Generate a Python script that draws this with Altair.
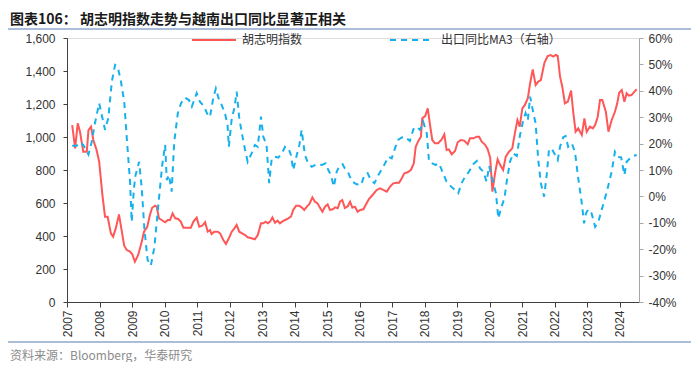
import altair as alt
import pandas as pd

# ---------------- data ----------------
red_year = [2007.16, 2007.25, 2007.33, 2007.40, 2007.50, 2007.61, 2007.66, 2007.74, 2007.81, 2007.91,
            2007.99, 2008.09, 2008.17, 2008.25, 2008.35, 2008.42, 2008.50, 2008.60, 2008.68, 2008.76,
            2008.84, 2008.94, 2009.01, 2009.09, 2009.19, 2009.30, 2009.37, 2009.47, 2009.55, 2009.62,
            2009.71, 2009.76, 2009.83, 2009.91, 2010.02, 2010.10, 2010.17, 2010.25, 2010.33, 2010.42,
            2010.50, 2010.58, 2010.68, 2010.81, 2010.89, 2010.99, 2011.07, 2011.16, 2011.25, 2011.33,
            2011.40, 2011.45, 2011.53, 2011.64, 2011.71, 2011.81, 2011.89, 2011.98, 2012.07, 2012.15,
            2012.22, 2012.30, 2012.39, 2012.48, 2012.56, 2012.68, 2012.78, 2012.87, 2012.97, 2013.04,
            2013.11, 2013.18, 2013.25, 2013.32, 2013.40, 2013.48, 2013.55, 2013.62, 2013.71, 2013.81,
            2013.89, 2013.96, 2014.05, 2014.14, 2014.22, 2014.30, 2014.38, 2014.46, 2014.55, 2014.63,
            2014.71, 2014.78, 2014.86, 2014.94, 2015.02, 2015.09, 2015.18, 2015.25, 2015.33, 2015.40,
            2015.47, 2015.55, 2015.64, 2015.71, 2015.78, 2015.86, 2015.94, 2016.02, 2016.12, 2016.19,
            2016.29, 2016.42, 2016.53, 2016.63, 2016.73, 2016.84, 2016.94, 2017.04, 2017.14, 2017.22,
            2017.30, 2017.38, 2017.48, 2017.58, 2017.67, 2017.73, 2017.81, 2017.89, 2017.93, 2018.02,
            2018.10, 2018.17, 2018.24, 2018.32, 2018.42, 2018.53, 2018.61, 2018.68, 2018.75, 2018.84,
            2018.94, 2019.02, 2019.12, 2019.22, 2019.33, 2019.40, 2019.50, 2019.61, 2019.68, 2019.76,
            2019.86, 2019.94, 2020.02, 2020.09, 2020.17, 2020.25, 2020.33, 2020.42, 2020.50, 2020.60,
            2020.70, 2020.78, 2020.86, 2020.93, 2021.01, 2021.09, 2021.18, 2021.25, 2021.33, 2021.42,
            2021.50, 2021.58, 2021.69, 2021.79, 2021.88, 2021.96, 2022.04, 2022.10, 2022.17, 2022.24,
            2022.32, 2022.41, 2022.51, 2022.58, 2022.65, 2022.73, 2022.84, 2022.92, 2022.99, 2023.09,
            2023.18, 2023.25, 2023.33, 2023.40, 2023.47, 2023.58, 2023.66, 2023.76, 2023.86, 2023.93,
            2023.99, 2024.07, 2024.15, 2024.22, 2024.29, 2024.37, 2024.46, 2024.53]
red_val = [1072, 931, 1083, 1032, 911, 911, 1042, 1063, 982, 921,
           850, 648, 517, 517, 416, 396, 446, 531, 436, 341,
           315, 305, 289, 244, 285, 365, 426, 456, 527, 571,
           584, 578, 507, 497, 483, 497, 497, 537, 507, 503,
           487, 450, 450, 450, 487, 511, 456, 462, 484, 426,
           436, 412, 426, 426, 416, 376, 352, 386, 426, 446,
           467, 426, 416, 406, 392, 386, 380, 406, 477, 477,
           487, 477, 487, 513, 481, 493, 477, 487, 497, 507,
           517, 558, 584, 584, 574, 558, 578, 594, 634, 608,
           598, 572, 547, 578, 592, 558, 562, 574, 568, 608,
           618, 570, 580, 608, 572, 578, 547, 558, 562, 588,
           624, 653, 679, 689, 679, 669, 699, 719, 723, 723,
           750, 780, 786, 800, 840, 941, 976, 1002, 1113, 1127,
           1174, 1073, 982, 962, 962, 986, 1016, 921, 925, 895,
           915, 968, 982, 978, 956, 992, 992, 1002, 1002, 972,
           954, 928, 876, 669, 780, 865, 830, 800, 881, 911,
           931, 1022, 1103, 1063, 1174, 1194, 1235, 1326, 1410, 1315,
           1336, 1345, 1450, 1491, 1497, 1487, 1497, 1491, 1366, 1305,
           1204, 1214, 1281, 1144, 1032, 1052, 1012, 1113, 1032, 1063,
           1052, 1073, 1123, 1224, 1224, 1153, 1032, 1103, 1153, 1204,
           1268, 1285, 1214, 1265, 1251, 1254, 1275, 1289]

blue_year = [2007.16, 2007.30, 2007.40, 2007.50, 2007.66, 2007.76, 2007.86, 2007.99, 2008.07, 2008.17,
             2008.27, 2008.38, 2008.48, 2008.56, 2008.66, 2008.76, 2008.84, 2008.94, 2008.99, 2009.06,
             2009.11, 2009.22, 2009.30, 2009.38, 2009.48, 2009.58, 2009.69, 2009.81, 2009.93, 2010.02,
             2010.07, 2010.14, 2010.22, 2010.30, 2010.41, 2010.51, 2010.63, 2010.75, 2010.84, 2010.99,
             2011.09, 2011.22, 2011.35, 2011.40, 2011.50, 2011.58, 2011.68, 2011.76, 2011.86, 2011.94,
             2011.98, 2012.07, 2012.15, 2012.22, 2012.30, 2012.39, 2012.48, 2012.56, 2012.68, 2012.78,
             2012.87, 2012.97, 2013.04, 2013.14, 2013.22, 2013.30, 2013.40, 2013.50, 2013.61, 2013.71,
             2013.81, 2013.89, 2013.96, 2014.07, 2014.15, 2014.22, 2014.32, 2014.42, 2014.53, 2014.68,
             2014.84, 2014.96, 2015.04, 2015.12, 2015.21, 2015.30, 2015.40, 2015.48, 2015.55, 2015.66,
             2015.76, 2015.91, 2016.05, 2016.15, 2016.25, 2016.35, 2016.46, 2016.58, 2016.73, 2016.89,
             2016.99, 2017.09, 2017.19, 2017.30, 2017.40, 2017.55, 2017.66, 2017.76, 2017.86, 2017.96,
             2018.07, 2018.14, 2018.24, 2018.34, 2018.45, 2018.55, 2018.68, 2018.82, 2018.94, 2019.04,
             2019.14, 2019.25, 2019.37, 2019.50, 2019.61, 2019.71, 2019.81, 2019.91, 2019.99, 2020.10,
             2020.20, 2020.27, 2020.37, 2020.46, 2020.53, 2020.63, 2020.73, 2020.84, 2020.94, 2021.04,
             2021.11, 2021.18, 2021.25, 2021.35, 2021.42, 2021.50, 2021.58, 2021.68, 2021.76, 2021.83,
             2021.91, 2022.02, 2022.10, 2022.17, 2022.27, 2022.34, 2022.42, 2022.53, 2022.63, 2022.73,
             2022.84, 2022.91, 2022.97, 2023.04, 2023.14, 2023.25, 2023.35, 2023.45, 2023.61, 2023.76,
             2023.86, 2023.94, 2024.05, 2024.15, 2024.22, 2024.32, 2024.42, 2024.53]
blue_val = [19.2, 19.2, 20.5, 19.5, 15.9, 20.7, 27.7, 35.3, 30.8, 25.2,
            29.6, 43.5, 49.8, 49.1, 43.5, 35.9, 22.0, 5.6, -9.6, 3.1,
            8.1, 13.1, 3.1, -12.1, -24.1, -26.2, -19.1, -3.3, 11.9, 19.5,
            6.2, 8.1, 1.8, 20.7, 31.5, 35.3, 37.4, 36.5, 34.0, 39.1,
            35.9, 34.0, 30.2, 30.2, 37.2, 40.9, 36.5, 34.6, 31.5, 27.0,
            18.8, 29.6, 33.4, 39.7, 29.6, 23.3, 17.6, 13.1, 16.3, 19.5,
            18.8, 30.2, 22.6, 19.5, 5.0, 14.4, 15.0, 14.7, 16.3, 18.8,
            18.4, 15.7, 10.0, 15.7, 19.5, 25.2, 15.7, 12.5, 11.2, 12.2,
            11.9, 12.5, 10.0, 8.1, 3.7, 9.4, 11.9, 12.2, 10.6, 8.8,
            5.8, 4.6, 4.3, 8.1, 8.8, 6.2, 5.0, 8.1, 11.2, 15.0,
            14.4, 18.2, 21.4, 22.3, 22.6, 21.0, 25.5, 26.4, 25.2, 28.3,
            23.9, 13.1, 12.5, 11.9, 12.5, 9.4, 5.6, 3.7, 2.4, 1.2,
            5.0, 7.5, 9.4, 12.2, 13.4, 10.6, 9.4, 5.6, 11.5, 5.6,
            1.2, -8.3, -3.9, -0.7, 5.6, 13.1, 16.3, 15.3, 23.3, 28.9,
            31.5, 28.9, 37.8, 31.5, 27.7, 13.8, 5.0, -0.1, 8.1, 17.6,
            18.2, 15.7, 13.8, 18.8, 22.4, 22.9, 18.8, 20.1, 16.9, 6.9,
            -2.6, -10.2, -6.4, -4.9, -6.4, -11.5, -9.6, -5.2, 1.8, 9.4,
            16.9, 15.0, 14.8, 8.1, 13.1, 14.4, 15.3, 15.7]

year_ticks = list(range(2007, 2025))
left_ticks = [0, 200, 400, 600, 800, 1000, 1200, 1400, 1600]
right_ticks = [-40, -30, -20, -10, 0, 10, 20, 30, 40, 50, 60]

title_prefix = ["图表106："]
title_main = ["胡志明指数走势与越南出口同比显著正相关"]
source_text = ["资料来源：Bloomberg，华泰研究"]
legend_red = ["胡志明指数"]
legend_blue = ["出口同比MA3（右轴）"]

RED = "#FF5757"
BLUE = "#16B1EC"
FONT = "Liberation Sans"
CJK = "Noto Sans CJK SC"

W, H = 572, 264

red_df = pd.DataFrame({"year": red_year, "val": red_val})
blue_df = pd.DataFrame({"year": blue_year, "val": blue_val})

x_axis = alt.Axis(values=year_ticks, format="d", labelAngle=270, grid=False,
                  domainColor="#404040", tickColor="#404040", tickSize=5,
                  labelPadding=3, labelFont=FONT, labelFontSize=12, labelColor="#333333",
                  title=None)
x_scale = alt.Scale(domain=[2007, 2024.6], nice=False, zero=False)

red_line = alt.Chart(red_df).mark_line(color=RED, strokeWidth=2).encode(
    x=alt.X("year:Q", scale=x_scale, axis=x_axis),
    y=alt.Y("val:Q", scale=alt.Scale(domain=[0, 1600], nice=False),
            axis=alt.Axis(values=left_ticks, format=",d", orient="left", grid=False,
                          domainColor="#404040", tickColor="#404040", tickSize=4,
                          labelPadding=8, labelFont=FONT, labelFontSize=12,
                          labelColor="#333333", title=None)),
)

blue_line = alt.Chart(blue_df).mark_line(color=BLUE, strokeWidth=2, strokeDash=[6, 5]).encode(
    x=alt.X("year:Q", scale=x_scale, axis=x_axis),
    y=alt.Y("val:Q", scale=alt.Scale(domain=[-40, 60], nice=False, zero=False),
            axis=alt.Axis(values=right_ticks, labelExpr="datum.value + '%'", orient="right",
                          grid=False, domainColor="#A6A6A6", tickColor="#A6A6A6", tickSize=4,
                          labelPadding=5, labelFont=FONT, labelFontSize=12,
                          labelColor="#333333", title=None)),
)


def one(col, vals):
    return pd.DataFrame({col: vals})


title1 = alt.Chart(one("t", title_prefix)).mark_text(
    font=CJK, fontSize=14, fontWeight="bold", color="#1a1a1a", align="left", baseline="middle"
).encode(text="t:N", x=alt.value(-57), y=alt.value(-18))
title2 = alt.Chart(one("t", title_main)).mark_text(
    font=CJK, fontSize=14, fontWeight="bold", color="#1a1a1a", align="left", baseline="middle"
).encode(text="t:N", x=alt.value(13), y=alt.value(-18))
title_rule = alt.Chart(one("t", title_prefix)).mark_rule(color="#8EA9CC", strokeWidth=1.5).encode(
    x=alt.value(-59), x2=alt.value(624), y=alt.value(-9))

foot_rule = alt.Chart(one("t", source_text)).mark_rule(color="#8EA9CC", strokeWidth=1.5).encode(
    x=alt.value(-59), x2=alt.value(624), y=alt.value(304))
foot_text = alt.Chart(one("t", source_text)).mark_text(
    font=CJK, fontSize=12, color="#8C8C8C", align="left", baseline="middle"
).encode(text="t:N", x=alt.value(-57), y=alt.value(318))

leg_red_rule = alt.Chart(one("t", legend_red)).mark_rule(color=RED, strokeWidth=2).encode(
    x=alt.value(125), x2=alt.value(169), y=alt.value(2))
leg_red_text = alt.Chart(one("t", legend_red)).mark_text(
    font=CJK, fontSize=12, color="#333333", align="left", baseline="middle"
).encode(text="t:N", x=alt.value(175), y=alt.value(2))
leg_blue_rule = alt.Chart(one("t", legend_blue)).mark_rule(
    color=BLUE, strokeWidth=2, strokeDash=[6, 5]).encode(
    x=alt.value(323), x2=alt.value(367), y=alt.value(2))
leg_blue_text = alt.Chart(one("t", legend_blue)).mark_text(
    font=CJK, fontSize=12, color="#333333", align="left", baseline="middle"
).encode(text="t:N", x=alt.value(374), y=alt.value(2))

chart = alt.layer(
    red_line, blue_line,
    title1, title2, title_rule, foot_rule, foot_text,
    leg_red_rule, leg_red_text, leg_blue_rule, leg_blue_text,
).resolve_scale(y="independent").properties(
    width=W, height=H,
    autosize=alt.AutoSizeParams(type="none"),
    padding={"left": 59, "top": 30, "right": 52, "bottom": 60},
).configure_view(stroke=None).configure(background="white")

chart.save("out.html", embed_options={"renderer": "svg", "actions": False})
